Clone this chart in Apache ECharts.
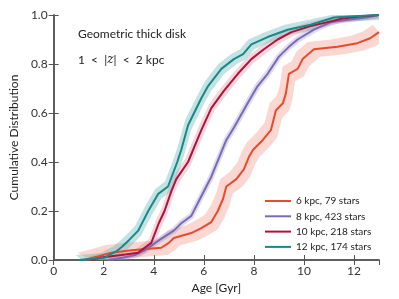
<!DOCTYPE html>
<html><head><meta charset="utf-8">
<script src="https://cdn.jsdelivr.net/npm/echarts@6/dist/echarts.min.js"></script>
<style>html,body{margin:0;padding:0;background:#fff}#c{width:399px;height:299px}</style>
</head><body><div id="c"></div>
<script>
// ---- data ----
const seriesNames = ['6 kpc, 79 stars', '8 kpc, 423 stars', '10 kpc, 218 stars', '12 kpc, 174 stars'];
const xTicks = [0, 2, 4, 6, 8, 10, 12];
const yTicks = [0.0, 0.2, 0.4, 0.6, 0.8, 1.0];

const age6 = [1.2, 1.8, 2.3, 3.1, 4.3, 4.6, 4.8, 5.5, 5.9, 6.3, 6.56, 6.77, 6.9, 7.3, 7.6, 7.8, 7.97, 8.36, 8.68, 8.88, 9.16, 9.28, 9.4, 9.75, 9.95, 10.4, 11.34, 12.14, 12.65, 13.0];
const cdf6 = [0, 0.015, 0.03, 0.04, 0.05, 0.07, 0.09, 0.11, 0.13, 0.155, 0.2, 0.25, 0.3, 0.33, 0.37, 0.42, 0.45, 0.49, 0.53, 0.61, 0.64, 0.68, 0.76, 0.78, 0.82, 0.86, 0.87, 0.885, 0.905, 0.93];

const age8 = [2.2, 2.8, 3.25, 3.65, 4.2, 4.8, 5.1, 5.5, 5.9, 6.3, 6.7, 6.9, 7.2, 7.75, 8.15, 8.55, 9.0, 9.4, 9.75, 10.4, 11.06, 11.7, 12.5, 13.0];
const cdf8 = [0, 0.01, 0.02, 0.04, 0.08, 0.12, 0.15, 0.18, 0.26, 0.34, 0.44, 0.49, 0.54, 0.64, 0.71, 0.76, 0.83, 0.87, 0.9, 0.94, 0.97, 0.98, 0.99, 1.0];

const age10 = [1.5, 1.9, 2.7, 3.38, 3.9, 4.2, 4.43, 4.7, 4.9, 5.37, 5.9, 6.3, 6.8, 7.36, 7.9, 8.4, 8.95, 9.5, 10.27, 10.9, 11.5, 12.3, 13.0];
const cdf10 = [0, 0.01, 0.02, 0.03, 0.07, 0.15, 0.2, 0.28, 0.33, 0.4, 0.53, 0.62, 0.69, 0.76, 0.82, 0.86, 0.9, 0.93, 0.955, 0.97, 0.985, 0.995, 1.0];

const age12 = [1.0, 1.6, 2.05, 2.2, 2.5, 2.72, 3.0, 3.38, 3.78, 4.18, 4.57, 4.94, 5.1, 5.37, 5.9, 6.17, 6.7, 7.2, 7.57, 7.9, 8.55, 9.35, 10.27, 11.2, 12.0, 13.0];
const cdf12 = [0, 0.005, 0.01, 0.02, 0.035, 0.053, 0.08, 0.12, 0.2, 0.27, 0.3, 0.4, 0.45, 0.55, 0.66, 0.71, 0.78, 0.82, 0.84, 0.88, 0.91, 0.94, 0.96, 0.99, 0.995, 1.0];

// band half-widths (age, cdf) per series
const bandAge = [0.25, 0.08, 0.1, 0.12];
const bandCdf = [0.03, 0.01, 0.015, 0.02];

const lineColors = ['#e84a2f', '#7a6ab5', '#b2113a', '#16898a'];
const bandColors = ['rgba(240,140,120,0.35)', 'rgba(160,150,210,0.35)', 'rgba(220,120,140,0.3)', 'rgba(100,180,180,0.38)'];

const allAges = [age6, age8, age10, age12];
const allCdf = [cdf6, cdf8, cdf10, cdf12];

const FONT = 'Lato';
const chart = echarts.init(document.getElementById('c'), null, {renderer: 'canvas'});

function bandSeries(k) {
  const ag = allAges[k], cd = allCdf[k];
  const data = ag.map((a, i) => [a, cd[i]]);
  return {
    type: 'custom', name: 'band' + k, silent: true, clip: true, z: 1,
    data: data,
    renderItem: function (params, api) {
      if (params.dataIndex !== 0) return null;
      const up = [], lo = [];
      for (let i = 0; i < ag.length; i++) {
        up.push(api.coord([ag[i] - bandAge[k], Math.min(1, cd[i] + bandCdf[k])]));
        lo.push(api.coord([ag[i] + bandAge[k], Math.max(0, cd[i] - bandCdf[k])]));
      }
      const pts = up.concat(lo.reverse());
      return {
        type: 'polygon',
        shape: {points: pts},
        style: {fill: bandColors[k], stroke: null},
        clipPath: {type: 'rect', shape: {x: params.coordSys.x, y: params.coordSys.y, width: params.coordSys.width, height: params.coordSys.height}}
      };
    }
  };
}

function lineSeries(k) {
  return {
    type: 'line', name: seriesNames[k], z: 5,
    data: allAges[k].map((a, i) => [a, allCdf[k][i]]),
    showSymbol: false, symbol: 'none',
    lineStyle: {color: lineColors[k], width: 2},
    itemStyle: {color: lineColors[k]},
    animation: false
  };
}

const axisLineStyle = {color: '#555', width: 1.5};
const option = {
  animation: false,
  grid: {left: 52, top: 15, right: 20, bottom: 39},
  legend: {
    orient: 'vertical', left: 260, top: 191, itemGap: 5.3,
    itemWidth: 26, itemHeight: 10,
    icon: 'path://M0,4 L26,4 L26,6 L0,6 Z',
    textStyle: {fontFamily: FONT, fontSize: 10, color: '#222', padding: [0, 0, 0, 0]},
    data: seriesNames
  },
  xAxis: [{
    type: 'value', min: 0, max: 13, interval: 2,
    name: 'Age [Gyr]', nameLocation: 'middle', nameGap: 16,
    nameTextStyle: {fontFamily: FONT, fontSize: 12, color: '#222'},
    axisLine: {show: true, lineStyle: axisLineStyle},
    axisTick: {show: true, inside: true, length: 5, lineStyle: {color: '#555'}},
    axisLabel: {fontFamily: FONT, fontSize: 12, color: '#333', margin: 5, showMaxLabel: false,
      formatter: v => (xTicks.indexOf(v) >= 0 ? String(v) : '')},
    splitLine: {show: false}
  }, {
    type: 'value', min: 0, max: 13, interval: 2, position: 'top',
    axisLine: {show: true, lineStyle: axisLineStyle},
    axisTick: {show: true, inside: true, length: 5, lineStyle: {color: '#555'}},
    axisLabel: {show: false}, splitLine: {show: false}
  }],
  yAxis: [{
    type: 'value', min: 0, max: 1, interval: 0.2,
    name: 'Cumulative Distribution', nameLocation: 'middle', nameGap: 23,
    nameTextStyle: {fontFamily: FONT, fontSize: 12, color: '#222'},
    axisLine: {show: true, lineStyle: axisLineStyle},
    axisTick: {show: true, inside: true, length: 5, lineStyle: {color: '#555'}},
    axisLabel: {fontFamily: FONT, fontSize: 12, color: '#333', margin: 6,
      formatter: v => {
        const t = yTicks.find(y => Math.abs(y - v) < 1e-6);
        return t === undefined ? '' : t.toFixed(1);
      }},
    splitLine: {show: false}
  }, {
    type: 'value', min: 0, max: 1, interval: 0.2, position: 'right',
    axisLine: {show: true, lineStyle: axisLineStyle},
    axisTick: {show: true, inside: true, length: 5, lineStyle: {color: '#555'}},
    axisLabel: {show: false}, splitLine: {show: false}
  }],
  graphic: [
    {type: 'text', left: 78, top: 28, style: {text: 'Geometric thick disk', font: '12px ' + FONT, fill: '#222'}},
    {type: 'text', left: 78, top: 54, style: {
      text: '1  <  |{i|z}|  <  2 kpc', font: '12px ' + FONT, fill: '#222',
      rich: {i: {fontStyle: 'italic', fontFamily: 'DejaVu Serif', fontSize: 12}}
    }}
  ],
  series: [bandSeries(0), bandSeries(1), bandSeries(2), bandSeries(3),
           lineSeries(0), lineSeries(1), lineSeries(2), lineSeries(3)]
};
chart.setOption(option);
</script>
</body></html>
